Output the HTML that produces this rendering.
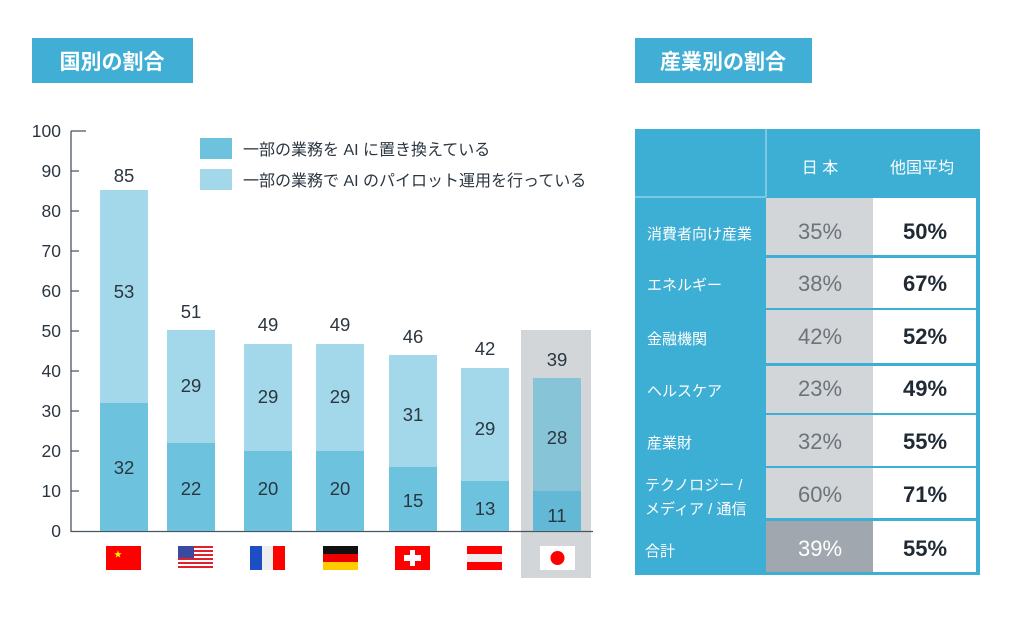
<!DOCTYPE html>
<html><head><meta charset="utf-8"><style>
body{margin:0;background:#fff;width:1024px;height:614px;overflow:hidden;font-family:"Liberation Sans","Noto Sans CJK JP",sans-serif}
</style></head><body>
<svg width="1024" height="614" xmlns="http://www.w3.org/2000/svg" font-family="Liberation Sans, Noto Sans CJK JP, sans-serif">
<rect x="32" y="38" width="161" height="45" fill="#41aed6"/>
<text x="112" y="69" font-size="21" fill="#fff" text-anchor="middle" font-weight="bold">国別の割合</text>
<rect x="635" y="38" width="177" height="45" fill="#41aed6"/>
<text x="723" y="69" font-size="21" fill="#fff" text-anchor="middle" font-weight="bold">産業別の割合</text>
<rect x="521" y="330" width="70" height="248" fill="#d3d6d9"/>
<g stroke="#4a5560" stroke-width="1.3" fill="none">
<path d="M71 131 V531.5 H593"/>
<path d="M71 131h15M71 171h8M71 211h8M71 251h8M71 291h8M71 331h8M71 371h8M71 411h8M71 451h8M71 491h8"/>
</g>
<g font-size="17.5" fill="#2b3640" text-anchor="end">
<text x="61" y="137">100</text><text x="61" y="177">90</text><text x="61" y="217">80</text><text x="61" y="257">70</text><text x="61" y="297">60</text><text x="61" y="337">50</text><text x="61" y="377">40</text><text x="61" y="417">30</text><text x="61" y="457">20</text><text x="61" y="497">10</text><text x="61" y="537">0</text>
</g>
<g>
<rect x="100" y="190" width="48" height="213" fill="#a2d8ea"/><rect x="100" y="403" width="48" height="128" fill="#6dc3de"/>
<rect x="167" y="330" width="48" height="113" fill="#a2d8ea"/><rect x="167" y="443" width="48" height="88" fill="#6dc3de"/>
<rect x="244" y="344" width="48" height="107" fill="#a2d8ea"/><rect x="244" y="451" width="48" height="80" fill="#6dc3de"/>
<rect x="316" y="344" width="48" height="107" fill="#a2d8ea"/><rect x="316" y="451" width="48" height="80" fill="#6dc3de"/>
<rect x="389" y="355" width="48" height="112" fill="#a2d8ea"/><rect x="389" y="467" width="48" height="64" fill="#6dc3de"/>
<rect x="461" y="368" width="48" height="113" fill="#a2d8ea"/><rect x="461" y="481" width="48" height="50" fill="#6dc3de"/>
<rect x="533" y="378" width="48" height="113" fill="#88c4d8"/><rect x="533" y="491" width="48" height="40" fill="#62b8d5"/>
</g>
<g font-size="18.5" fill="#2b3640" text-anchor="middle">
<text x="124" y="182">85</text><text x="124" y="298">53</text><text x="124" y="474">32</text>
<text x="191" y="318">51</text><text x="191" y="392">29</text><text x="191" y="495">22</text>
<text x="268" y="331">49</text><text x="268" y="403">29</text><text x="268" y="495">20</text>
<text x="340" y="331">49</text><text x="340" y="403">29</text><text x="340" y="495">20</text>
<text x="413" y="343">46</text><text x="413" y="421">31</text><text x="413" y="507">15</text>
<text x="485" y="355">42</text><text x="485" y="435">29</text><text x="485" y="515">13</text>
<text x="557" y="366">39</text><text x="557" y="444">28</text><text x="557" y="522">11</text>
</g>
<rect x="200" y="138" width="32" height="21" fill="#6dc3de"/>
<rect x="200" y="169" width="32" height="21" fill="#a2d8ea"/>
<g font-size="16" fill="#2b3640"><text x="243" y="155">一部の業務を AI に置き換えている</text><text x="243" y="186">一部の業務で AI のパイロット運用を行っている</text></g>
<rect x="106" y="546" width="35" height="24" fill="#f00"/><text x="114" y="557" font-size="8" fill="#ff0">★</text>
<rect x="178" y="546" width="35" height="24" fill="#fff"/>
<g fill="#e0202a"><rect x="178" y="546" width="35" height="2"/><rect x="178" y="550" width="35" height="2"/><rect x="178" y="554" width="35" height="2"/><rect x="178" y="558" width="35" height="2"/><rect x="178" y="562" width="35" height="2"/><rect x="178" y="566" width="35" height="2"/></g>
<rect x="178" y="546" width="16" height="12" fill="#3a4aa0"/>
<rect x="250" y="546" width="12" height="24" fill="#1c4fc4"/><rect x="262" y="546" width="11" height="24" fill="#eee"/><rect x="273" y="546" width="12" height="24" fill="#f00"/>
<rect x="323" y="546" width="35" height="8" fill="#111"/><rect x="323" y="554" width="35" height="8" fill="#e00"/><rect x="323" y="562" width="35" height="8" fill="#fc0"/>
<rect x="395" y="546" width="35" height="24" fill="#f00"/><rect x="410" y="550" width="5" height="16" fill="#fff"/><rect x="404" y="555" width="17" height="6" fill="#fff"/>
<rect x="467" y="546" width="35" height="24" fill="#f00"/><rect x="467" y="554" width="35" height="8" fill="#eee"/>
<rect x="540" y="546" width="35" height="24" fill="#fff"/><circle cx="557.5" cy="558" r="7" fill="#f00"/>
<rect x="635" y="129" width="345" height="446" fill="#3daed4"/>
<line x1="766" y1="129" x2="766" y2="197" stroke="#8fd0e8" stroke-width="1.5"/>
<line x1="635" y1="197" x2="766" y2="197" stroke="#8fd0e8" stroke-width="1.5"/>
<g>
<rect x="766" y="198" width="107" height="57" fill="#d3d6d9"/><rect x="873" y="198" width="103" height="57" fill="#fff"/>
<rect x="766" y="258" width="107" height="50" fill="#d3d6d9"/><rect x="873" y="258" width="103" height="50" fill="#fff"/>
<rect x="766" y="310" width="107" height="53" fill="#d3d6d9"/><rect x="873" y="310" width="103" height="53" fill="#fff"/>
<rect x="766" y="366" width="107" height="47" fill="#d3d6d9"/><rect x="873" y="366" width="103" height="47" fill="#fff"/>
<rect x="766" y="415" width="107" height="51" fill="#d3d6d9"/><rect x="873" y="415" width="103" height="51" fill="#fff"/>
<rect x="766" y="468" width="107" height="50" fill="#d3d6d9"/><rect x="873" y="468" width="103" height="50" fill="#fff"/>
<rect x="766" y="521" width="107" height="51" fill="#a0a7ae"/><rect x="873" y="521" width="103" height="51" fill="#fff"/>
</g>
<g font-size="16" fill="#fff" text-anchor="middle"><text x="820" y="173">日 本</text><text x="922" y="173">他国平均</text></g>
<g font-size="15" fill="#fff">
<text x="647" y="239">消費者向け産業</text><text x="647" y="290">エネルギー</text><text x="647" y="344">金融機関</text><text x="647" y="396">ヘルスケア</text><text x="647" y="448">産業財</text><text x="645" y="490">テクノロジー /</text><text x="645" y="514">メディア / 通信</text><text x="645" y="556">合計</text>
</g>
<g font-size="22" text-anchor="middle" fill="#6b737b">
<text x="820" y="239">35%</text><text x="820" y="291">38%</text><text x="820" y="344">42%</text><text x="820" y="396">23%</text><text x="820" y="449">32%</text><text x="820" y="502">60%</text><text x="820" y="556" fill="#fff">39%</text>
</g>
<g font-size="22" text-anchor="middle" fill="#1f2a35" font-weight="bold">
<text x="925" y="239">50%</text><text x="925" y="291">67%</text><text x="925" y="344">52%</text><text x="925" y="396">49%</text><text x="925" y="449">55%</text><text x="925" y="502">71%</text><text x="925" y="556">55%</text>
</g>
</svg>
</body></html>
